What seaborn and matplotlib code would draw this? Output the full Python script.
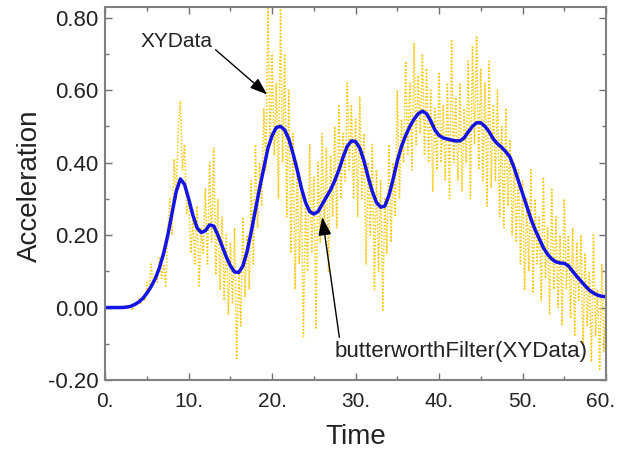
import numpy as np
import pandas as pd
import seaborn as sns
from matplotlib import pyplot as plt
from matplotlib import transforms
from matplotlib.ticker import MultipleLocator, FuncFormatter

# raw signal, every 0.25 time units
raw_t = np.arange(0, 60.001, 0.25)
raw_y = [
    0.000, 0.002, -0.001, 0.001, 0.000, 0.003, -0.002, 0.002,
    0.001, -0.003, 0.004, 0.000, 0.006, -0.008, 0.012, 0.004,
    0.025, 0.010, 0.030, 0.018, 0.070, 0.040, 0.120, 0.060,
    0.090, 0.070, 0.140, 0.080, 0.120, 0.060, 0.220, 0.300,
    0.200, 0.410, 0.300, 0.500, 0.570, 0.380, 0.450, 0.260,
    0.300, 0.150, 0.240, 0.120, 0.280, 0.060, 0.220, 0.150,
    0.330, 0.120, 0.400, 0.180, 0.440, 0.090, 0.300, 0.050,
    0.250, 0.020, 0.200, -0.020, 0.180, 0.010, 0.220, -0.140,
    0.100, -0.050, 0.250, 0.030, 0.200, 0.050, 0.350, 0.120,
    0.450, 0.220, 0.400, 0.280, 0.550, 0.380, 0.830, 0.450,
    0.700, 0.420, 0.620, 0.300, 0.830, 0.400, 0.700, 0.250,
    0.600, 0.150, 0.480, 0.050, 0.400, 0.120, 0.320, -0.080,
    0.300, 0.100, 0.450, 0.150, 0.360, -0.060, 0.400, 0.180,
    0.480, 0.200, 0.440, 0.100, 0.420, 0.250, 0.500, 0.220,
    0.560, 0.300, 0.480, 0.350, 0.620, 0.380, 0.560, 0.300,
    0.520, 0.250, 0.580, 0.300, 0.480, 0.120, 0.400, 0.200,
    0.450, 0.050, 0.380, 0.100, 0.350, -0.010, 0.300, 0.150,
    0.450, 0.180, 0.400, 0.250, 0.600, 0.300, 0.520, 0.400,
    0.680, 0.420, 0.620, 0.380, 0.730, 0.450, 0.640, 0.480,
    0.700, 0.420, 0.660, 0.400, 0.600, 0.320, 0.550, 0.380,
    0.650, 0.400, 0.560, 0.350, 0.620, 0.300, 0.740, 0.400,
    0.580, 0.350, 0.620, 0.320, 0.550, 0.400, 0.680, 0.300,
    0.720, 0.450, 0.750, 0.380, 0.660, 0.350, 0.620, 0.280,
    0.680, 0.330, 0.560, 0.350, 0.600, 0.250, 0.500, 0.220,
    0.550, 0.280, 0.460, 0.200, 0.400, 0.180, 0.380, 0.120,
    0.350, 0.050, 0.300, 0.100, 0.380, 0.040, 0.300, 0.120,
    0.250, 0.020, 0.360, 0.080, 0.220, -0.020, 0.330, 0.050,
    0.250, 0.000, 0.200, -0.050, 0.300, 0.050, 0.200, -0.030,
    0.220, -0.080, 0.180, 0.020, 0.200, -0.100, 0.150, -0.050,
    0.100, -0.150, 0.200, -0.080, 0.050, -0.170, 0.120, -0.120,
    0.030,
]

# filtered curve every 0.5 time units
filt_t = np.arange(0, 60.001, 0.5)
filt_y = [
    0.000, 0.000, 0.000, 0.000, 0.000, 0.001, 0.003, 0.008, 0.015, 0.025,
    0.040, 0.058, 0.080, 0.110, 0.150, 0.200, 0.260, 0.320, 0.355, 0.340,
    0.300, 0.255, 0.220, 0.207, 0.212, 0.228, 0.225, 0.200, 0.170, 0.140,
    0.115, 0.098, 0.097, 0.115, 0.155, 0.210, 0.270, 0.330, 0.385, 0.440,
    0.475, 0.497, 0.500, 0.490, 0.465, 0.425, 0.380, 0.330, 0.290, 0.265,
    0.258, 0.265, 0.285, 0.305, 0.325, 0.350, 0.380, 0.415, 0.445, 0.460,
    0.458, 0.440, 0.405, 0.360, 0.320, 0.290, 0.277, 0.280, 0.310, 0.355,
    0.405, 0.445, 0.475, 0.500, 0.520, 0.535, 0.542, 0.535, 0.515, 0.490,
    0.475, 0.468, 0.465, 0.462, 0.460, 0.460, 0.468, 0.485, 0.500, 0.510,
    0.510, 0.500, 0.485, 0.465, 0.452, 0.442, 0.430, 0.415, 0.385, 0.350,
    0.315, 0.280, 0.245, 0.215, 0.190, 0.165, 0.147, 0.134, 0.126, 0.123,
    0.122, 0.115, 0.100, 0.086, 0.073, 0.060, 0.048, 0.040, 0.034, 0.031,
    0.030,
]

x_ticks = [0, 10, 20, 30, 40, 50, 60]

raw = pd.DataFrame({'t': raw_t, 'y': raw_y})
filt = pd.DataFrame({'t': filt_t, 'y': filt_y})

sns.set_style("ticks")
plt.rcParams['font.family'] = ['Liberation Sans', 'DejaVu Sans']
plt.rcParams['axes.unicode_minus'] = False

fig = plt.figure(figsize=(6.19, 4.54), dpi=100)
ax = fig.add_axes([0.17, 0.163, 0.809, 0.822])

sns.lineplot(data=raw, x='t', y='y', ax=ax, color='#F9C80E', linewidth=1.1,
             linestyle=(0, (1, 1.2)))
sns.lineplot(data=filt, x='t', y='y', ax=ax, color='#1414E6', linewidth=2.5)

ax.set_xlim(0, 60)
ax.set_ylim(-0.2, 0.83)
ax.set_xticks(x_ticks)
ax.xaxis.set_minor_locator(MultipleLocator(5))
ax.yaxis.set_major_locator(MultipleLocator(0.2))
ax.yaxis.set_minor_locator(MultipleLocator(0.1))
ax.xaxis.set_major_formatter(FuncFormatter(lambda v, p: '%d.' % round(v)))
ax.yaxis.set_major_formatter(FuncFormatter(lambda v, p: '%.2f' % v))
ax.tick_params(which='both', direction='in', top=True, right=True,
               color='#707070', labelsize=16, labelcolor='#222222')
ax.tick_params(axis='x', pad=9, labelsize=15)
ax.tick_params(axis='y', pad=5)
ax.tick_params(which='major', length=5, width=1)
ax.tick_params(which='minor', length=3, width=1)
for s in ax.spines.values():
    s.set_color('#808080')
    s.set_linewidth(1.5)

# nudge the last x label so it stays inside the figure
last = ax.xaxis.get_major_ticks()[len(x_ticks) - 1].label1
last.set_transform(last.get_transform() +
                   transforms.ScaledTranslation(-5 / 100, 0, fig.dpi_scale_trans))

ax.set_xlabel('Time', fontsize=20, labelpad=9, color='#222222')
ax.set_ylabel('Acceleration', fontsize=20, labelpad=6, color='#222222')
ax.yaxis.set_label_coords(-0.125, 0.52)

ax.annotate('XYData', xy=(19.4, 0.588), xytext=(4.2, 0.735),
            fontsize=15, ha='left', va='center', color='#222222',
            arrowprops=dict(arrowstyle='-|>,head_length=0.7,head_width=0.25',
                            color='black', lw=1, relpos=(1.0, 0.2),
                            shrinkA=0, shrinkB=0))
ax.annotate('butterworthFilter(XYData)', xy=(26.0, 0.25), xytext=(27.5, -0.12),
            fontsize=16, ha='left', va='center', color='#222222',
            arrowprops=dict(arrowstyle='-|>,head_length=0.7,head_width=0.25',
                            color='black', lw=1, relpos=(0.02, 1.0),
                            shrinkA=0, shrinkB=0))

fig.savefig('out.png', dpi=100)
